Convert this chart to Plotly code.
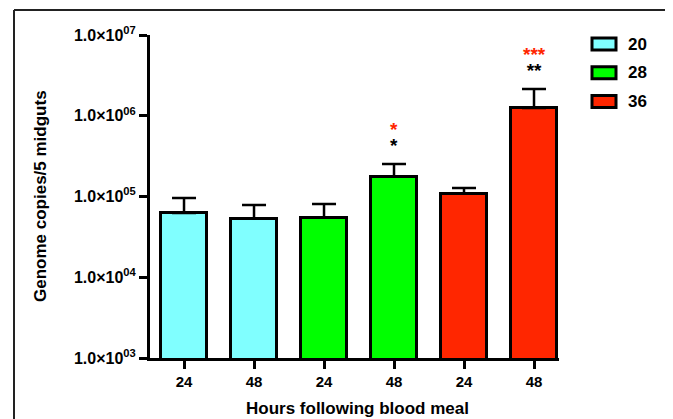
import plotly.graph_objects as go
import numpy as np

# ---- data ----
series_names = ["20", "28", "36"]
series_colors = ["#80FFFF", "#00FF00", "#FF2600"]
hour_labels = ["24", "48", "24", "48", "24", "48"]
means = [6.25e4, 5.3e4, 5.45e4, 1.75e5, 1.08e5, 1.25e6]
err_top = [9.6e4, 7.85e4, 8.1e4, 2.52e5, 1.27e5, 2.15e6]
sig_black = ["", "", "", "*", "", "**"]
sig_red = ["", "", "", "*", "", "***"]
y_tick_vals = [1e3, 1e4, 1e5, 1e6, 1e7]
y_tick_text = ["1.0×10<sup>03</sup>", "1.0×10<sup>04</sup>", "1.0×10<sup>05</sup>",
               "1.0×10<sup>06</sup>", "1.0×10<sup>07</sup>"]
x_title = "Hours following blood meal"
y_title = "Genome copies/5 midguts"

FONT = "Liberation Sans, Arial, sans-serif"
# page body has an 8px margin, so the figure is drawn from (8, 8)
OFF = 8
W, H = 673 - OFF, 419 - OFF
L, T = 150 - OFF, 35 - OFF
R_EDGE, B_EDGE = 559 - OFF, 358 - OFF
PW, PH = R_EDGE - L, B_EDGE - T


def px(x):  # page x -> paper x
    return (x - OFF - L) / PW


def py(y):  # page y -> paper y
    return (B_EDGE - (y - OFF)) / PH


fig = go.Figure()
x_all = list(range(len(means)))
for s, (name, col) in enumerate(zip(series_names, series_colors)):
    idx = [2 * s, 2 * s + 1]
    fig.add_trace(go.Bar(
        x=[x_all[i] for i in idx],
        y=[means[i] for i in idx],
        name=name,
        width=0.66,
        marker=dict(color=col, line=dict(color="black", width=3)),
        error_y=dict(type="data", symmetric=False,
                     array=[err_top[i] - means[i] for i in idx],
                     arrayminus=[0, 0], color="black", thickness=2.5, width=12),
        showlegend=False,
    ))

# significance markers (red line above black line)
for i in x_all:
    if sig_black[i] or sig_red[i]:
        txt = (f"<span style='color:#FF2600;font-size:19px'>{sig_red[i]}</span><br>"
               f"<span style='font-size:19px'>{sig_black[i]}</span>")
        fig.add_annotation(x=i, y=np.log10(err_top[i]), text=txt, showarrow=False,
                           yanchor="bottom", yshift=6, align="center",
                           font=dict(family=FONT, size=12, color="black", weight="bold"))

# custom legend
for k, (name, col) in enumerate(zip(series_names, series_colors)):
    yc = 44 + 28.8 * k
    fig.add_shape(type="rect", xref="paper", yref="paper",
                  x0=px(592), x1=px(616), y0=py(yc + 6), y1=py(yc - 6),
                  fillcolor=col, line=dict(color="black", width=3))
    fig.add_annotation(xref="paper", yref="paper", x=px(626), y=py(yc),
                       text=name, showarrow=False, xanchor="left", yanchor="middle",
                       font=dict(family=FONT, size=17, color="black", weight="bold"))

# axis titles
fig.add_annotation(xref="paper", yref="paper", x=px(357), y=py(408), text=x_title,
                   showarrow=False, xanchor="center", yanchor="middle",
                   font=dict(family=FONT, size=17, color="black", weight="bold"))
fig.add_annotation(xref="paper", yref="paper", x=px(40), y=py(196), text=y_title,
                   showarrow=False, xanchor="center", yanchor="middle", textangle=-90,
                   font=dict(family=FONT, size=17, color="black", weight="bold"))

# frame lines
fig.add_shape(type="line", xref="paper", yref="paper", x0=px(14), x1=px(671),
              y0=py(10), y1=py(10), line=dict(color="#222222", width=2))
fig.add_shape(type="line", xref="paper", yref="paper", x0=px(14), x1=px(14),
              y0=py(10), y1=py(440), line=dict(color="#222222", width=2))
fig.add_shape(type="line", xref="paper", yref="paper", x0=px(671), x1=px(671),
              y0=py(10), y1=py(440), line=dict(color="#888888", width=2))

fig.update_layout(
    width=W, height=H,
    margin=dict(l=L, r=W - R_EDGE, t=T, b=H - B_EDGE),
    paper_bgcolor="white", plot_bgcolor="white",
    font=dict(family=FONT, color="black", weight="bold"),
    bargap=0,
)
fig.update_xaxes(
    range=[-0.486, 5.357], tickmode="array", tickvals=x_all, ticktext=hour_labels,
    showline=True, linecolor="black", linewidth=3, ticks="outside", ticklen=8, tickwidth=3,
    tickcolor="black", showgrid=False, zeroline=False, automargin=False,
    tickfont=dict(family=FONT, size=15, color="black", weight="bold"),
)
fig.update_yaxes(
    type="log", range=[3, 7], tickmode="array", tickvals=y_tick_vals, ticktext=y_tick_text,
    showline=True, linecolor="black", linewidth=3, ticks="outside", ticklen=8, tickwidth=3,
    tickcolor="black", showgrid=False, zeroline=False, automargin=False,
    tickfont=dict(family=FONT, size=16, color="black", weight="bold"),
)

fig.write_html("out.html")
